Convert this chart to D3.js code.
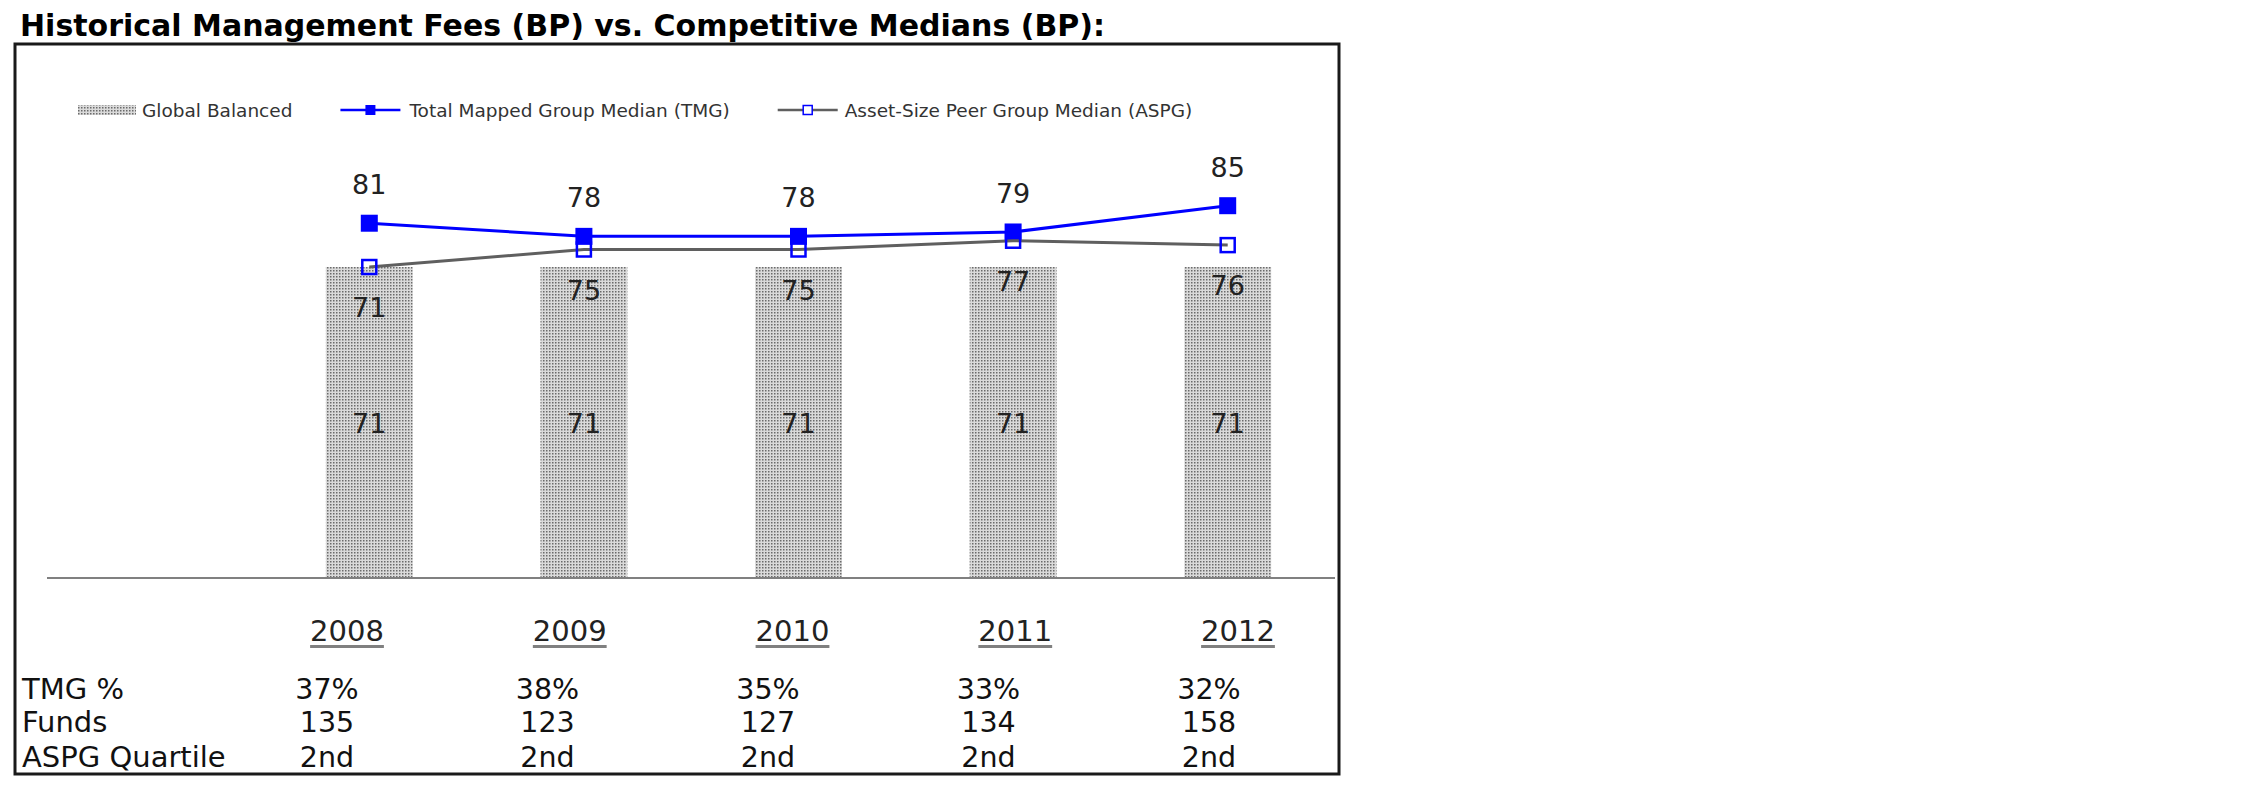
<!DOCTYPE html>
<html>
<head>
<meta charset="utf-8">
<script src="https://cdn.jsdelivr.net/npm/d3@7"></script>
<style>
    body { margin: 0; background: #fff; }
    text { font-family: "DejaVu Sans", Verdana, sans-serif; }
</style>
</head>
<body>
<script>
(function () {
    'use strict';

    // chart data
    var years = ["2008", "2009", "2010", "2011", "2012"];
    var globalBalanced = [71, 71, 71, 71, 71];
    var tmgMedian = [81, 78, 78, 79, 85];
    var aspgMedian = [71, 75, 75, 77, 76];

    // data table under the chart
    var rowLabels = ["TMG %", "Funds", "ASPG Quartile"];
    var tmgPct = ["37%", "38%", "35%", "33%", "32%"];
    var funds = ["135", "123", "127", "134", "158"];
    var aspgQuartile = ["2nd", "2nd", "2nd", "2nd", "2nd"];

    var legendLabels = ["Global Balanced", "Total Mapped Group Median (TMG)", "Asset-Size Peer Group Median (ASPG)"];

    var width = 2250, height = 796;

    var svg = d3.select("body")
        .append("svg")
        .attr("width", width)
        .attr("height", height);

    var defs = svg.append("defs");
    var pat = defs.append("pattern")
        .attr("id", "dots")
        .attr("patternUnits", "userSpaceOnUse")
        .attr("width", 3)
        .attr("height", 3);
    pat.append("rect").attr("width", 3).attr("height", 3).attr("fill", "#dadada");
    pat.append("rect").attr("width", 1.5).attr("height", 1.5).attr("fill", "#6a6a6a");

    svg.append("rect")
        .attr("width", width)
        .attr("height", height)
        .attr("fill", "#fff");

    // title
    svg.append("text")
        .attr("x", 20)
        .attr("y", 36)
        .attr("font-size", 30)
        .attr("font-weight", "bold")
        .attr("fill", "#000")
        .text("Historical Management Fees (BP) vs. Competitive Medians (BP):");

    // frame
    svg.append("rect")
        .attr("x", 15)
        .attr("y", 44)
        .attr("width", 1324)
        .attr("height", 730)
        .attr("fill", "none")
        .attr("stroke", "#1a1a1a")
        .attr("stroke-width", 3);

    // scales: first slot of the category axis is left empty
    var x = d3.scaleBand()
        .domain(years)
        .range([262, 1335])
        .paddingInner(0.595)
        .paddingOuter(0.2975);

    var y = d3.scaleLinear()
        .domain([0, 100])
        .range([578, 140]);

    var cx = function (d, i) { return x(years[i]) + x.bandwidth() / 2; };

    // bars
    svg.selectAll("rect.bar")
        .data(globalBalanced)
        .enter()
        .append("rect")
        .attr("class", "bar")
        .attr("x", function (d, i) { return x(years[i]); })
        .attr("y", function (d) { return y(d); })
        .attr("width", x.bandwidth())
        .attr("height", function (d) { return y(0) - y(d); })
        .attr("fill", "url(#dots)");

    // category axis line
    svg.append("line")
        .attr("x1", 47)
        .attr("x2", 1335)
        .attr("y1", y(0))
        .attr("y2", y(0))
        .attr("stroke", "#808080")
        .attr("stroke-width", 2);

    // lines
    var line = d3.line()
        .x(function (d, i) { return cx(d, i); })
        .y(function (d) { return y(d); });

    svg.append("path")
        .datum(tmgMedian)
        .attr("d", line)
        .attr("fill", "none")
        .attr("stroke", "#0000ff")
        .attr("stroke-width", 3);

    svg.selectAll("rect.tmg")
        .data(tmgMedian)
        .enter()
        .append("rect")
        .attr("class", "tmg")
        .attr("x", function (d, i) { return cx(d, i) - 8.5; })
        .attr("y", function (d) { return y(d) - 8.5; })
        .attr("width", 17)
        .attr("height", 17)
        .attr("fill", "#0000ff");

    svg.append("path")
        .datum(aspgMedian)
        .attr("d", line)
        .attr("fill", "none")
        .attr("stroke", "#5f5f5f")
        .attr("stroke-width", 3);

    svg.selectAll("rect.aspg")
        .data(aspgMedian)
        .enter()
        .append("rect")
        .attr("class", "aspg")
        .attr("x", function (d, i) { return cx(d, i) - 7; })
        .attr("y", function (d) { return y(d) - 7; })
        .attr("width", 14)
        .attr("height", 14)
        .attr("fill", "none")
        .attr("stroke", "#0000ff")
        .attr("stroke-width", 2.5);

    // data labels
    svg.selectAll("text.tmgLabel")
        .data(tmgMedian)
        .enter()
        .append("text")
        .attr("class", "tmgLabel")
        .attr("x", cx)
        .attr("y", function (d) { return y(d) - 29; })
        .attr("text-anchor", "middle")
        .attr("font-size", 27)
        .attr("fill", "#222")
        .text(function (d) { return d; });

    svg.selectAll("text.aspgLabel")
        .data(aspgMedian)
        .enter()
        .append("text")
        .attr("class", "aspgLabel")
        .attr("x", cx)
        .attr("y", function (d) { return y(d) + 50; })
        .attr("text-anchor", "middle")
        .attr("font-size", 27)
        .attr("fill", "#222")
        .text(function (d) { return d; });

    svg.selectAll("text.barLabel")
        .data(globalBalanced)
        .enter()
        .append("text")
        .attr("class", "barLabel")
        .attr("x", cx)
        .attr("y", function (d) { return (y(d) + y(0)) / 2 + 10; })
        .attr("text-anchor", "middle")
        .attr("font-size", 27)
        .attr("fill", "#222")
        .text(function (d) { return d; });

    // legend
    var legend = svg.append("g").attr("transform", "translate(0,110)");
    var lx = 78;

    legend.append("rect")
        .attr("x", lx).attr("y", -5)
        .attr("width", 58).attr("height", 10)
        .attr("fill", "url(#dots)");
    lx += 64;
    var t0 = legend.append("text")
        .attr("x", lx).attr("y", 6.5)
        .attr("font-size", 18.5).attr("fill", "#333")
        .text(legendLabels[0]);
    lx += t0.node().getComputedTextLength() + 48;

    legend.append("line")
        .attr("x1", lx).attr("x2", lx + 60)
        .attr("stroke", "#0000ff").attr("stroke-width", 2.5);
    legend.append("rect")
        .attr("x", lx + 25).attr("y", -5)
        .attr("width", 10).attr("height", 10)
        .attr("fill", "#0000ff");
    lx += 69;
    var t1 = legend.append("text")
        .attr("x", lx).attr("y", 6.5)
        .attr("font-size", 18.5).attr("fill", "#333")
        .text(legendLabels[1]);
    lx += t1.node().getComputedTextLength() + 48;

    legend.append("line")
        .attr("x1", lx).attr("x2", lx + 60)
        .attr("stroke", "#5f5f5f").attr("stroke-width", 2.5);
    legend.append("rect")
        .attr("x", lx + 25.5).attr("y", -4.5)
        .attr("width", 9).attr("height", 9)
        .attr("fill", "#fff")
        .attr("stroke", "#0000ff").attr("stroke-width", 1.5);
    lx += 67;
    legend.append("text")
        .attr("x", lx).attr("y", 6.5)
        .attr("font-size", 18.5).attr("fill", "#333")
        .text(legendLabels[2]);

    // year headings, underlined
    var yearX = d3.scalePoint().domain(years).range([347, 1238]);
    svg.selectAll("text.year")
        .data(years)
        .enter()
        .append("text")
        .attr("class", "year")
        .attr("x", function (d) { return yearX(d); })
        .attr("y", 641)
        .attr("text-anchor", "middle")
        .attr("font-size", 29)
        .attr("fill", "#222")
        .text(function (d) { return d; })
        .each(function () {
            var b = this.getBBox();
            svg.append("line")
                .attr("x1", b.x).attr("x2", b.x + b.width)
                .attr("y1", 646.5).attr("y2", 646.5)
                .attr("stroke", "#808080")
                .attr("stroke-width", 3);
        });

    // data table
    var colX = d3.scalePoint().domain(years).range([327, 1209]);
    var rows = [tmgPct, funds, aspgQuartile];
    var rowY = [699, 732, 767];

    rows.forEach(function (row, r) {
        svg.append("text")
            .attr("x", 22)
            .attr("y", rowY[r])
            .attr("font-size", 29)
            .attr("fill", "#111")
            .text(rowLabels[r]);

        svg.selectAll("text.row" + r)
            .data(row)
            .enter()
            .append("text")
            .attr("class", "row" + r)
            .attr("x", function (d, i) { return colX(years[i]); })
            .attr("y", rowY[r])
            .attr("text-anchor", "middle")
            .attr("font-size", 28.5)
            .attr("fill", "#111")
            .text(function (d) { return d; });
    });
}());
</script>
</body>
</html>
